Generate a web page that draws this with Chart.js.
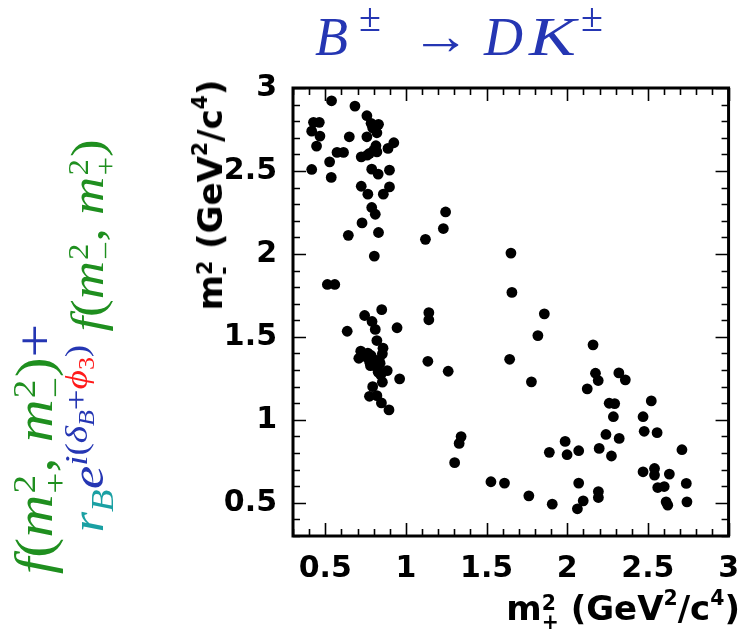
<!DOCTYPE html>
<html>
<head>
<meta charset="utf-8">
<script src="https://cdn.jsdelivr.net/npm/chart.js@4.4.1/dist/chart.umd.min.js"></script>
<style>
  html,body{margin:0;padding:0;background:#fff;overflow:hidden;}
  #wrap{position:absolute;left:0;top:0;width:754px;height:635px;}
  canvas{position:absolute;left:0;top:0;}
  .math{position:absolute;font-family:"Liberation Serif","DejaVu Serif",serif;white-space:nowrap;line-height:1;}
  .math i{font-style:italic;}
  .up{font-style:normal;}
  .st{display:inline-block;vertical-align:-0.42em;font-size:0.62em;line-height:0.95;text-align:left;font-style:normal;margin-left:1px;}
  .st>span{display:block;}
  .rot{transform:translate(-50%,-50%) rotate(-90deg) scaleX(1.15);}
  .g{color:#1f8f1f;}
  .b{color:#2536b3;}
  .t{color:#1aa0a3;}
  .r{color:#ff1a1a;}
  sup,sub{font-size:0.7em;line-height:0;}
  #title span{position:absolute;line-height:1;white-space:nowrap;}
  .axt{position:absolute;font-family:"DejaVu Sans",sans-serif;font-weight:bold;font-size:34px;line-height:34px;height:34px;white-space:nowrap;color:#000;}
  .axt .st{vertical-align:-0.45em;font-size:0.6em;line-height:0.92;margin-left:0;}
  .axt sup{font-size:0.6em;vertical-align:0.75em;line-height:0;}
</style>
</head>
<body>
<div id="wrap">
  <canvas id="c" width="754" height="635"></canvas>
  <div class="math b" id="title" style="left:0;top:0;">
    <span style="left:315px;top:10px;font-size:54px;font-style:italic;">B</span>
    <span style="left:359px;top:-2px;font-size:40px;">±</span>
    <span style="left:411px;top:9px;font-size:54px;transform:scaleX(1.1);transform-origin:left;">→</span>
    <span style="left:484px;top:10px;font-size:54px;font-style:italic;">D</span>
    <span style="left:529px;top:10px;font-size:54px;font-style:italic;transform:scaleX(1.3);transform-origin:left;">K</span>
    <span style="left:581px;top:-2px;font-size:40px;">±</span>
  </div>
  <div class="math rot g" id="l1" style="left:40px;top:449px;font-size:52px;">
    <i>f</i>(<i>m</i><span class="st"><span>2</span><span>+</span></span>, <i>m</i><span class="st"><span>2</span><span>−</span></span>)<span class="b">+</span>
  </div>
  <div class="math rot" id="l2" style="left:92px;top:336px;font-size:46px;">
    <span class="t"><i>r</i><sub><i>B</i></sub></span><span class="b"><i>e</i><sup><i>i</i>(<i>δ</i><sub style="font-size:0.7em"><i>B</i></sub>+<span class="r"><i>ϕ</i><sub style="font-size:0.7em">3</sub></span>)</sup></span><span class="g"> <i>f</i>(<i>m</i><span class="st"><span>2</span><span>−</span></span>, <i>m</i><span class="st"><span>2</span><span>+</span></span>)</span>
  </div>
  <div class="axt" id="xt" style="right:14px;top:591px;">m<span class="st"><span>2</span><span>+</span></span> (GeV<sup>2</sup>/c<sup>4</sup>)</div>
  <div class="axt" id="yt" style="left:210px;top:195px;transform:translate(-50%,-50%) rotate(-90deg);">m<span class="st"><span>2</span><span>-</span></span> (GeV<sup>2</sup>/c<sup>4</sup>)</div>
</div>
<script>
// m+^2 (x) and m-^2 (y) of the candidate events
const m2plus = [
  0.539,0.684,0.758,0.427,0.463,0.784,0.830,0.794,0.416,0.820,0.467,0.649,0.758,0.925,0.889,0.814,0.446,0.573,0.613,0.774,0.820,0.800,0.723,0.760,0.527,0.416,0.788,0.828,0.898,0.537,0.723,0.898,0.764,0.860,0.788,0.810,0.728,0.643,0.830,1.121,0.804,
  0.513,0.559,0.850,0.744,1.142,1.142,0.790,0.945,0.810,0.636,0.820,0.858,0.720,0.764,0.854,0.708,0.748,0.794,0.804,0.840,0.780,1.136,0.884,0.828,0.961,0.854,0.794,0.774,0.820,0.848,0.895,
  0.784,0.774,0.834,0.824,0.844,
  1.246,1.232,1.651,1.657,1.858,1.818,2.160,1.643,1.262,1.778,2.124,2.175,2.192,2.320,2.360,2.260,2.294,2.286,2.521,2.470,2.477,2.557,2.240,2.322,1.342,1.330,1.302,1.987,1.889,1.999,2.071,2.198,2.274,2.711,2.470,2.541,2.541,2.633,2.561,2.601,2.738,1.527,1.611,2.071,2.193,2.193,1.762,2.099,1.907,2.063,2.613,2.623,2.742
];
const m2minus = [
  2.923,2.891,2.833,2.793,2.793,2.787,2.781,2.760,2.740,2.730,2.710,2.706,2.706,2.670,2.636,2.652,2.650,2.612,2.612,2.606,2.615,2.625,2.585,2.595,2.555,2.509,2.511,2.481,2.505,2.461,2.408,2.404,2.360,2.360,2.280,2.239,2.187,2.112,2.129,2.088,1.987,
  1.816,1.816,1.664,1.629,1.646,1.603,1.593,1.555,1.545,1.534,1.478,1.432,1.414,1.402,1.398,1.371,1.382,1.368,1.347,1.341,1.327,1.353,1.297,1.287,1.247,1.227,1.200,1.142,1.146,1.102,1.060,
  1.388,1.351,1.360,1.310,1.271,
  2.253,2.153,2.005,1.768,1.639,1.508,1.452,1.365,1.293,1.229,1.187,1.281,1.237,1.283,1.241,1.100,1.098,1.019,1.114,1.019,0.931,0.923,0.912,0.888,0.899,0.858,0.742,0.870,0.804,0.790,0.814,0.828,0.782,0.820,0.687,0.707,0.667,0.673,0.592,0.598,0.617,0.627,0.619,0.619,0.568,0.532,0.542,0.512,0.492,0.464,0.506,0.486,0.506
];
const xTicks = [0.5, 1, 1.5, 2, 2.5, 3];
const yTicks = [0.5, 1, 1.5, 2, 2.5, 3];
const xTickLabels = ['0.5', '1', '1.5', '2', '2.5', '3'];
const yTickLabels = ['0.5', '1', '1.5', '2', '2.5', '3'];
const axisMin = 0.3, axisMax = 3.0;

const points = m2plus.map((v, i) => ({x: v, y: m2minus[i]}));

const frameTicks = {
  id: 'frameTicks',
  afterDatasetsDraw(chart) {
    const {ctx, chartArea: a, scales: {x, y}} = chart;
    ctx.save();
    ctx.strokeStyle = '#000';
    ctx.lineWidth = 1.6;
    ctx.beginPath();
    for (let i = 3; i <= 30; i++) {
      const v = i / 10;
      const L = (i % 5 === 0) ? 13 : 7;
      const px = Math.round(x.getPixelForValue(v)) + 0.5;
      ctx.moveTo(px, a.bottom); ctx.lineTo(px, a.bottom - L);
      ctx.moveTo(px, a.top); ctx.lineTo(px, a.top + L);
      const py = Math.round(y.getPixelForValue(v)) + 0.5;
      ctx.moveTo(a.left, py); ctx.lineTo(a.left + L, py);
      ctx.moveTo(a.right, py); ctx.lineTo(a.right - L, py);
    }
    ctx.stroke();
    ctx.lineWidth = 3;
    ctx.strokeRect(a.left, a.top, a.right - a.left, a.bottom - a.top);
    ctx.restore();
  }
};

const tickFont = {family: '"DejaVu Sans", sans-serif', size: 30, weight: 'bold'};

new Chart(document.getElementById('c'), {
  type: 'scatter',
  data: {
    datasets: [{
      data: points,
      backgroundColor: '#000',
      borderWidth: 0,
      pointRadius: 5.4,
      pointHoverRadius: 5.4
    }]
  },
  options: {
    responsive: false,
    devicePixelRatio: 1,
    animation: false,
    layout: {padding: {left: 200, top: 88, right: 13, bottom: 0}},
    plugins: {legend: {display: false}, tooltip: {enabled: false}},
    scales: {
      x: {
        type: 'linear', min: axisMin, max: axisMax,
        afterBuildTicks: s => { s.ticks = xTicks.map(v => ({value: v})); },
        afterFit: s => { s.height = 99; },
        grid: {display: false, drawTicks: false},
        border: {display: false},
        ticks: {color: '#000', font: tickFont, padding: 15, maxRotation: 0,
                callback: (v) => xTickLabels[xTicks.indexOf(v)]},
        title: {display: false}
      },
      y: {
        type: 'linear', min: axisMin, max: axisMax,
        afterBuildTicks: s => { s.ticks = yTicks.map(v => ({value: v})); },
        afterFit: s => { s.width = 93; },
        grid: {display: false, drawTicks: false},
        border: {display: false},
        ticks: {color: '#000', font: tickFont, padding: 16,
                callback: (v) => yTickLabels[yTicks.indexOf(v)]},
        title: {display: false}
      }
    }
  },
  plugins: [frameTicks]
});
</script>
</body>
</html>
